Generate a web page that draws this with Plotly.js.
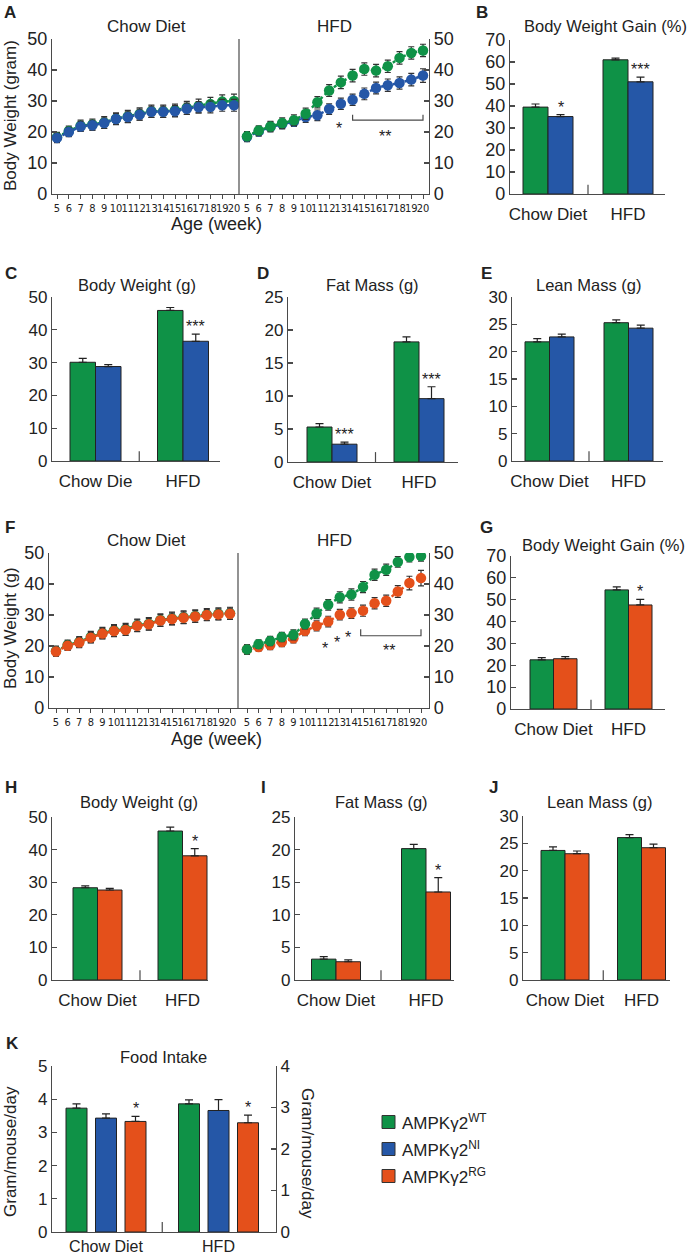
<!DOCTYPE html>
<html><head><meta charset="utf-8">
<script src="https://cdn.plot.ly/plotly-3.0.1.min.js"></script>
<style>html,body{margin:0;padding:0;background:#fff}#chart{width:693px;height:1255px}</style>
</head><body><div id="chart"></div>
<script>
// ================= DATA =================
const weeks = [5,6,7,8,9,10,11,12,13,14,15,16,17,18,19,20];
const diets = ['Chow Diet', 'HFD'];
const dietsC = ['Chow Die', 'HFD'];
const groupNames = ['AMPKγ2<sup>WT</sup>', 'AMPKγ2<sup>NI</sup>', 'AMPKγ2<sup>RG</sup>'];

// Panel A (body weight curves, WT vs NI)
const aChowWT    = [18.3, 20.3, 22.0, 22.4, 23.1, 24.3, 25.0, 25.8, 26.7, 26.7, 27.0, 27.8, 28.4, 29.0, 29.8, 30.0];
const aChowWTErr = [1.6, 1.6, 1.8, 1.8, 1.9, 1.9, 2.0, 2.0, 2.0, 2.0, 2.0, 2.1, 2.2, 2.2, 2.2, 2.2];
const aChowNI    = [18.1, 20.0, 21.8, 22.2, 22.9, 24.2, 24.8, 25.6, 26.5, 26.5, 26.7, 27.5, 28.0, 28.1, 28.6, 28.6];
const aChowNIErr = [1.5, 1.5, 1.6, 1.6, 1.7, 1.7, 1.7, 1.8, 1.8, 1.8, 1.8, 1.8, 1.8, 1.9, 1.9, 1.9];
const aHfdWT     = [18.6, 20.5, 21.8, 22.9, 23.8, 25.9, 29.6, 33.4, 36.0, 38.2, 40.3, 39.8, 41.2, 43.9, 45.5, 46.3];
const aHfdWTErr  = [1.5, 1.5, 1.6, 1.7, 1.7, 1.8, 1.8, 1.9, 2.0, 2.0, 2.0, 2.0, 2.0, 2.0, 2.0, 2.0];
const aHfdNI     = [18.4, 20.2, 21.6, 22.6, 23.4, 24.8, 25.4, 27.4, 29.1, 30.4, 32.3, 34.2, 35.1, 35.8, 36.9, 38.2];
const aHfdNIErr  = [1.5, 1.5, 1.6, 1.6, 1.6, 1.7, 1.7, 1.7, 1.8, 1.8, 1.9, 1.9, 2.0, 2.0, 2.0, 2.2];
const aSigWeeks  = [12.8, 16.75];
const aSigY      = [22.4, 19.9];
const aSigText   = ['*', '**'];

// Panel F (body weight curves, WT vs RG)
const fChowWT    = [18.4, 20.3, 21.3, 22.9, 24.2, 25.0, 25.4, 26.7, 27.2, 28.4, 28.9, 29.3, 29.7, 30.2, 30.4, 30.6];
const fChowWTErr = [1.6, 1.6, 1.7, 1.8, 1.8, 1.9, 1.9, 2.0, 2.0, 2.0, 2.0, 2.0, 2.0, 1.9, 1.9, 1.9];
const fChowRG    = [18.2, 20.1, 21.1, 22.7, 24.0, 24.8, 25.2, 26.5, 27.0, 28.2, 28.7, 29.1, 29.5, 30.0, 30.2, 30.4];
const fChowRGErr = [1.5, 1.5, 1.6, 1.7, 1.7, 1.8, 1.8, 1.9, 1.9, 1.9, 1.9, 1.9, 1.9, 1.8, 1.8, 1.8];
const fHfdWT     = [18.9, 20.6, 21.6, 22.9, 23.6, 27.1, 30.5, 33.3, 35.7, 36.6, 39.0, 43.0, 44.6, 47.1, 48.7, 49.0];
const fHfdWTErr  = [1.5, 1.4, 1.5, 1.5, 1.6, 1.6, 1.7, 1.7, 1.8, 1.8, 1.8, 1.8, 1.8, 1.7, 1.6, 1.6];
const fHfdRG     = [18.9, 19.7, 20.3, 21.3, 22.5, 24.9, 26.5, 27.9, 30.1, 30.6, 31.4, 33.8, 34.6, 37.6, 40.3, 41.9];
const fHfdRGErr  = [1.5, 1.4, 1.5, 1.5, 1.5, 1.6, 1.6, 1.7, 1.7, 1.7, 1.8, 1.8, 1.8, 1.9, 2.2, 2.5];
const fSigWeeks  = [11.7, 12.8, 13.7, 17.2];
const fSigY      = [20.6, 22.5, 24.0, 19.7];
const fSigText   = ['*', '*', '*', '**'];

// Bar panels: [Chow, HFD]
const bWT = [39.5, 61.0], bWTErr = [1.4, 0.8], bNI = [35.2, 51.0], bNIErr = [0.9, 2.1], bSig = ['*', '***'];
const cWT = [30.1, 45.9], cWTErr = [1.2, 0.9], cNI = [28.8, 36.5], cNIErr = [0.6, 2.2], cSig = ['', '***'];
const dWT = [5.3, 18.2],  dWTErr = [0.5, 0.75], dNI = [2.7, 9.6], dNIErr = [0.3, 1.8], dSig = ['***', '***'];
const eWT = [21.8, 25.3], eWTErr = [0.6, 0.5], eNI = [22.7, 24.3], eNIErr = [0.5, 0.55], eSig = ['', ''];
const gWT = [22.5, 54.5], gWTErr = [1.0, 1.4], gRG = [23.0, 47.6], gRGErr = [1.0, 2.6], gSig = ['', '*'];
const hWT = [28.3, 45.7], hWTErr = [0.6, 1.2], hRG = [27.6, 38.1], hRGErr = [0.5, 2.2], hSig = ['', '*'];
const iWT = [3.2, 20.15], iWTErr = [0.4, 0.65], iRG = [2.8, 13.5], iRGErr = [0.3, 2.2], iSig = ['', '*'];
const jWT = [23.7, 26.05], jWTErr = [0.65, 0.55], jRG = [23.1, 24.2], jRGErr = [0.5, 0.65], jSig = ['', ''];
const kWT = [3.73, 3.86], kWTErr = [0.13, 0.12];
const kNI = [3.43, 3.66], kNIErr = [0.13, 0.33];
const kRG = [3.33, 3.29], kRGErr = [0.15, 0.23], kSig = ['*', '*'];

// ================= STYLE / LAYOUT HELPERS =================
const W = 693, H = 1255;
const FONT = "'Liberation Sans', Arial, Helvetica, sans-serif";
const NARROW = "'Liberation Sans Narrow', 'Arial Narrow', 'DejaVu Sans Condensed', sans-serif";
const TXT = '#222', AX = '#4a4a4a';
const GREEN = '#0f9247', BLUE = '#2557a7', ORANGE = '#e4501b';
const px = (a, b) => [a / W, b / W];
const py = (top, bottom) => [1 - bottom / H, 1 - top / H];

const data = [];
const layout = {
  width: W, height: H, margin: {l: 0, r: 0, t: 0, b: 0},
  paper_bgcolor: '#fff', plot_bgcolor: 'rgba(0,0,0,0)',
  showlegend: false, barmode: 'overlay',
  font: {family: FONT, color: TXT},
  annotations: [], shapes: []
};

function yAxis(n, top, bottom, range, dtick, extra) {
  layout['yaxis' + n] = Object.assign({
    domain: py(top, bottom), range: range, dtick: dtick, tick0: 0,
    anchor: 'x' + n, showline: true, linecolor: AX, linewidth: 1.2,
    ticks: 'inside', ticklen: 5, tickcolor: AX, tickwidth: 1.2,
    showgrid: false, zeroline: false, fixedrange: true,
    tickfont: {size: 17, family: FONT, color: TXT}
  }, extra || {});
}
function xWeek(n, L, R, w5, w20) {
  const u = (w20 - w5) / 15;
  layout['xaxis' + n] = {
    domain: px(L, R), range: [5 - (w5 - L) / u, 20 + (R - w20) / u],
    anchor: 'y' + n, tickmode: 'array', tickvals: weeks, ticktext: weeks.map(String),
    tickangle: 0, showline: true, linecolor: AX, linewidth: 1.2, ticks: 'outside', ticklen: 4,
    tickcolor: AX, showgrid: false, zeroline: false, fixedrange: true,
    tickfont: {size: 11, family: NARROW, color: TXT}
  };
}
function xCat(n, L, R, c0, c1, cats, standoff) {
  const u = c1 - c0;
  layout['xaxis' + n] = {
    domain: px(L, R), type: 'category', range: [(L - c0) / u, 1 + (R - c1) / u],
    categoryorder: 'array', categoryarray: cats, tickangle: 0,
    anchor: 'y' + n, showline: true, linecolor: AX, linewidth: 1.2, ticks: '',
    showgrid: false, zeroline: false, fixedrange: true, ticklabelstandoff: standoff,
    tickfont: {size: 17, family: FONT, color: TXT}
  };
  // small divider tick between the diet groups
  layout.shapes.push({type: 'line', xref: 'x' + n, yref: 'y' + n + ' domain',
    x0: 0.5, x1: 0.5, y0: 0, y1: 0.06, line: {color: AX, width: 1.2}});
  return u;
}
function lineTrace(n, y, err, color) {
  data.push({type: 'scatter', mode: 'lines+markers', x: weeks, y: y,
    xaxis: 'x' + n, yaxis: 'y' + n, hoverinfo: 'skip',
    line: {color: color, width: 2.5, dash: 'dot'},
    marker: {color: color, size: 10.5},
    error_y: {type: 'data', array: err, color: '#333', thickness: 1.2, width: 3}});
}
function barPanel(n, geo, cats, series, yRange, dtick) {
  const u = xCat(n, geo.L, geo.R, geo.c0, geo.c1, cats, geo.standoff === undefined ? 4 : geo.standoff);
  yAxis(n, geo.top, geo.bottom, yRange, dtick);
  const step = geo.step || geo.bar;
  const total = (series.length - 1) * step + geo.bar;
  series.forEach((s, k) => {
    const off = (-total / 2 + k * step) / u, wd = geo.bar / u;
    data.push({type: 'bar', x: cats, y: s.y, xaxis: 'x' + n, yaxis: 'y' + n,
      offset: off, width: wd, hoverinfo: 'skip',
      marker: {color: s.color, line: {color: '#222', width: 1}},
      error_y: {type: 'data', array: s.err, arrayminus: s.err.map(() => 0), symmetric: false,
        color: '#222', thickness: 1.2, width: 4}});
    if (s.sig) s.sig.forEach((t, i) => {
      if (!t) return;
      layout.annotations.push({xref: 'x' + n, yref: 'y' + n, x: i + off + wd / 2,
        y: s.y[i] + s.err[i], text: t, showarrow: false, yanchor: 'bottom', yshift: -3,
        font: {size: 16, family: FONT, color: TXT}});
    });
  });
}
function label(text, x, y, size, extra) {
  layout.annotations.push(Object.assign({xref: 'paper', yref: 'paper', x: x / W, y: 1 - y / H,
    text: text, showarrow: false, xanchor: 'center', yanchor: 'middle',
    font: {size: size, family: FONT, color: TXT}}, extra || {}));
}
function sigMarks(n, xs, ys, ts) {
  ts.forEach((t, i) => layout.annotations.push({xref: 'x' + n, yref: 'y' + n, x: xs[i], y: ys[i],
    text: t, showarrow: false, yanchor: 'middle', yshift: -4, font: {size: 16, family: FONT, color: TXT}}));
}

// ================= PANEL A =================
xWeek(1, 52, 239, 57, 234);  yAxis(1, 39, 194, [0, 50], 10, {tickfont: {size: 18, family: FONT, color: TXT}});
xWeek(2, 239, 429, 247, 423); yAxis(2, 39, 194, [0, 50], 10, {side: 'right', tickfont: {size: 18, family: FONT, color: TXT}});
lineTrace(1, aChowWT, aChowWTErr, GREEN); lineTrace(1, aChowNI, aChowNIErr, BLUE);
lineTrace(2, aHfdNI, aHfdNIErr, BLUE); lineTrace(2, aHfdWT, aHfdWTErr, GREEN);
layout.shapes.push({type: 'line', xref: 'x2 domain', yref: 'y2 domain', x0: 0, x1: 0, y0: 0, y1: 1, line: {color: AX, width: 1.2}});
layout.shapes.push({type: 'path', xref: 'x2', yref: 'y2', path: 'M14,25.6 L14,23.8 L20,23.8 L20,25.6', line: {color: AX, width: 1.2}});
sigMarks(2, aSigWeeks, aSigY, aSigText);
label('<b>A</b>', 10, 12, 17);
label('Chow Diet', 146, 26, 17); label('HFD', 334, 26, 17);
label('Age (week)', 216, 224, 18);
label('Body Weight (gram)', 10, 116, 17, {textangle: -90});

// ================= PANEL B =================
barPanel(3, {L: 510, R: 665, c0: 548, c1: 628, bar: 25, top: 40, bottom: 194}, diets,
  [{y: bWT, err: bWTErr, color: GREEN}, {y: bNI, err: bNIErr, color: BLUE, sig: bSig}], [0, 70], 10);
layout.yaxis3.tickfont.size = 18;
label('<b>B</b>', 482, 12, 17);
label('Body Weight Gain (%)', 605, 26, 16.5);

// ================= PANELS C, D, E =================
barPanel(4, {L: 52, R: 220, c0: 95.5, c1: 183, bar: 25.5, top: 297, bottom: 461}, dietsC,
  [{y: cWT, err: cWTErr, color: GREEN}, {y: cNI, err: cNIErr, color: BLUE, sig: cSig}], [0, 50], 10);
barPanel(5, {L: 288, R: 458, c0: 332, c1: 419, bar: 25, top: 297, bottom: 462}, diets,
  [{y: dWT, err: dWTErr, color: GREEN}, {y: dNI, err: dNIErr, color: BLUE, sig: dSig}], [0, 25], 5);
barPanel(6, {L: 512, R: 663, c0: 549.5, c1: 628.5, bar: 24.5, top: 297, bottom: 461}, diets,
  [{y: eWT, err: eWTErr, color: GREEN}, {y: eNI, err: eNIErr, color: BLUE, sig: eSig}], [0, 30], 5);
label('<b>C</b>', 11, 273, 17); label('Body Weight (g)', 137, 285, 16.5);
label('<b>D</b>', 263, 273, 17); label('Fat Mass (g)', 372, 285, 16.5);
label('<b>E</b>', 486, 273, 17); label('Lean Mass (g)', 588, 285, 16.5);

// ================= PANEL F =================
xWeek(7, 49, 238, 56, 230);  yAxis(7, 553, 708, [0, 50], 10, {tickfont: {size: 18, family: FONT, color: TXT}});
xWeek(8, 238, 429, 247, 421); yAxis(8, 553, 708, [0, 50], 10, {side: 'right', tickfont: {size: 18, family: FONT, color: TXT}});
lineTrace(7, fChowWT, fChowWTErr, GREEN); lineTrace(7, fChowRG, fChowRGErr, ORANGE);
lineTrace(8, fHfdRG, fHfdRGErr, ORANGE); lineTrace(8, fHfdWT, fHfdWTErr, GREEN);
layout.shapes.push({type: 'line', xref: 'x8 domain', yref: 'y8 domain', x0: 0, x1: 0, y0: 0, y1: 1, line: {color: AX, width: 1.2}});
layout.shapes.push({type: 'path', xref: 'x8', yref: 'y8', path: 'M14.8,25.4 L14.8,23.3 L20,23.3 L20,25.4', line: {color: AX, width: 1.2}});
sigMarks(8, fSigWeeks, fSigY, fSigText);
label('<b>F</b>', 10, 527, 17);
label('Chow Diet', 146, 540, 17); label('HFD', 334, 540, 17);
label('Age (week)', 216, 739, 18);
label('Body Weight (g)', 10, 628, 17, {textangle: -90});

// ================= PANEL G =================
barPanel(9, {L: 511, R: 665, c0: 553.5, c1: 628.5, bar: 23.5, top: 556, bottom: 709}, diets,
  [{y: gWT, err: gWTErr, color: GREEN}, {y: gRG, err: gRGErr, color: ORANGE, sig: gSig}], [0, 70], 10);
layout.yaxis9.tickfont.size = 18;
label('<b>G</b>', 486, 527, 17);
label('Body Weight Gain (%)', 603, 545, 16.5);

// ================= PANELS H, I, J =================
barPanel(10, {L: 52, R: 208, c0: 97.5, c1: 182.5, bar: 24.5, top: 817, bottom: 980}, diets,
  [{y: hWT, err: hWTErr, color: GREEN}, {y: hRG, err: hRGErr, color: ORANGE, sig: hSig}], [0, 50], 10);
barPanel(11, {L: 295, R: 454, c0: 336, c1: 426, bar: 24.5, top: 817, bottom: 980}, diets,
  [{y: iWT, err: iWTErr, color: GREEN}, {y: iRG, err: iRGErr, color: ORANGE, sig: iSig}], [0, 25], 5);
barPanel(12, {L: 523, R: 670, c0: 565, c1: 641.5, bar: 24, top: 816, bottom: 980}, diets,
  [{y: jWT, err: jWTErr, color: GREEN}, {y: jRG, err: jRGErr, color: ORANGE, sig: jSig}], [0, 30], 5);
label('<b>H</b>', 11, 787, 17); label('Body Weight (g)', 139, 802, 16.5);
label('<b>I</b>', 263, 787, 17); label('Fat Mass (g)', 381, 802, 16.5);
label('<b>J</b>', 493, 787, 17); label('Lean Mass (g)', 599, 802, 16.5);

// ================= PANEL K =================
barPanel(13, {L: 52, R: 276, c0: 106, c1: 218.5, bar: 21, step: 29.5, top: 1066, bottom: 1232, standoff: 0}, diets,
  [{y: kWT, err: kWTErr, color: GREEN}, {y: kNI, err: kNIErr, color: BLUE}, {y: kRG, err: kRGErr, color: ORANGE, sig: kSig}], [0, 5], 1);
layout.xaxis13.tickfont.size = 16;
layout.yaxis14 = Object.assign({}, layout.yaxis13, {overlaying: 'y13', side: 'right', range: [0, 4], dtick: 1, tickfont: {size: 17, family: FONT, color: TXT}});
delete layout.yaxis14.domain;
data.push({type: 'scatter', x: [], y: [], xaxis: 'x13', yaxis: 'y14', hoverinfo: 'skip'});
label('<b>K</b>', 12, 1043, 17);
label('Food Intake', 163, 1057, 16.5);
label('Gram/mouse/day', 10, 1152, 17, {textangle: -90});
label('Gram/mouse/day', 308, 1153, 17, {textangle: 90});

// ================= LEGEND (manual) =================
const legendColors = [GREEN, BLUE, ORANGE];
groupNames.forEach((name, k) => {
  const cy = 1122 + k * 27;
  layout.shapes.push({type: 'rect', xref: 'paper', yref: 'paper',
    x0: 382 / W, x1: 395 / W, y0: 1 - (cy + 6.5) / H, y1: 1 - (cy - 6.5) / H,
    fillcolor: legendColors[k], line: {color: '#333', width: 1}});
  label(name, 400, cy, 17, {xanchor: 'left'});
});

Plotly.newPlot('chart', data, layout, {staticPlot: true});
</script>
</body></html>
